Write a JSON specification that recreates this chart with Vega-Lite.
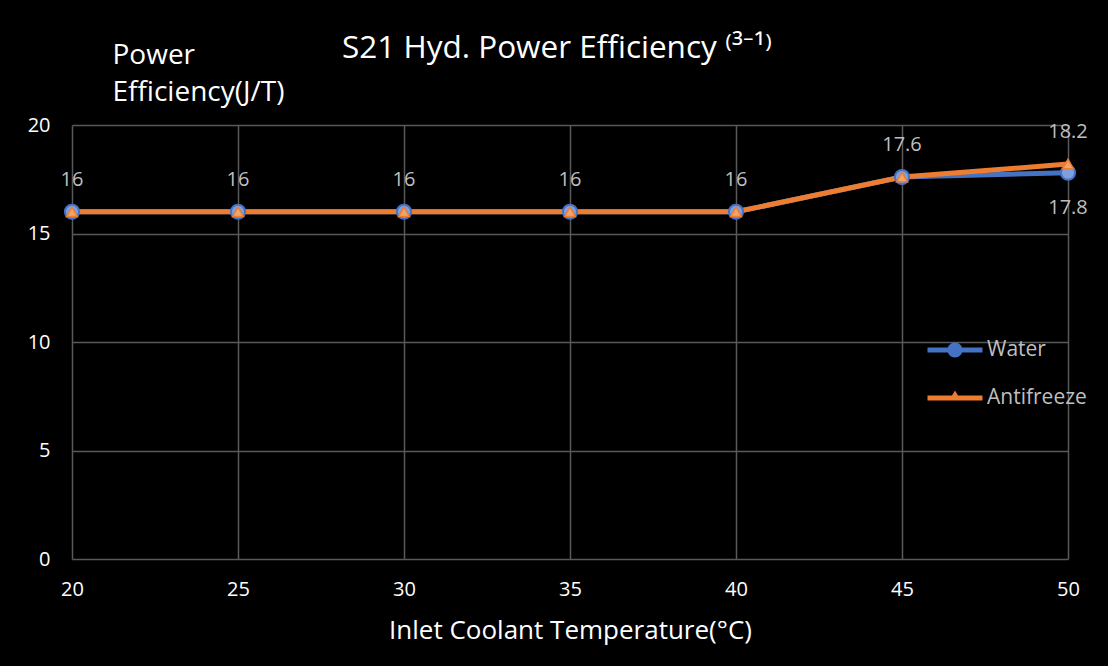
{
  "$schema": "https://vega.github.io/schema/vega-lite/v6.json",
  "width": 996,
  "height": 434,
  "autosize": {"type": "none"},
  "padding": {"left": 72, "top": 125, "right": 40, "bottom": 107},
  "background": "#000000",
  "config": {"view": {"stroke": null}, "font": "Open Sans"},
  "title": {
    "text": "S21 Hyd. Power Efficiency ⁽³⁻¹⁾",
    "fontSize": 31.5,
    "fontWeight": "normal",
    "color": "#ffffff",
    "anchor": "middle",
    "frame": "group",
    "dx": -13,
    "dy": 27
  },
  "data": {
    "values": [
      {"series": "Water", "temp": 20, "value": 16},
      {"series": "Water", "temp": 25, "value": 16},
      {"series": "Water", "temp": 30, "value": 16},
      {"series": "Water", "temp": 35, "value": 16},
      {"series": "Water", "temp": 40, "value": 16},
      {"series": "Water", "temp": 45, "value": 17.6},
      {"series": "Water", "temp": 50, "value": 17.8},
      {"series": "Antifreeze", "temp": 20, "value": 16},
      {"series": "Antifreeze", "temp": 25, "value": 16},
      {"series": "Antifreeze", "temp": 30, "value": 16},
      {"series": "Antifreeze", "temp": 35, "value": 16},
      {"series": "Antifreeze", "temp": 40, "value": 16},
      {"series": "Antifreeze", "temp": 45, "value": 17.6},
      {"series": "Antifreeze", "temp": 50, "value": 18.2}
    ]
  },
  "encoding": {
    "x": {
      "field": "temp",
      "type": "quantitative",
      "scale": {"domain": [20, 50], "nice": false, "zero": false},
      "axis": {
        "values": [20, 25, 30, 35, 40, 45, 50],
        "title": "Inlet Coolant Temperature(°C)",
        "grid": true,
        "gridColor": "#595959",
        "gridWidth": 1.5,
        "domain": false,
        "ticks": false,
        "labelFlush": false,
        "labelFontSize": 20,
        "labelColor": "#ffffff",
        "labelPadding": 20,
        "titleFontSize": 26,
        "titleColor": "#ffffff",
        "titleFontWeight": "normal",
        "titlePadding": 18
      }
    },
    "y": {
      "field": "value",
      "type": "quantitative",
      "scale": {"domain": [0, 20], "nice": false},
      "axis": {
        "values": [0, 5, 10, 15, 20],
        "title": ["Power", "Efficiency(J/T)"],
        "titleAngle": 0,
        "titleAlign": "left",
        "titleBaseline": "alphabetic",
        "titleX": 40,
        "titleY": -62,
        "titleLineHeight": 37,
        "titleFontSize": 28,
        "titleColor": "#ffffff",
        "titleFontWeight": "normal",
        "grid": true,
        "gridColor": "#595959",
        "gridWidth": 1.5,
        "domain": false,
        "ticks": false,
        "labelFontSize": 20,
        "labelColor": "#ffffff",
        "labelPadding": 22
      }
    }
  },
  "layer": [
    {
      "mark": {"type": "line", "strokeWidth": 5},
      "encoding": {
        "color": {
          "field": "series",
          "type": "nominal",
          "scale": {"domain": ["Water", "Antifreeze"], "range": ["#4472c4", "#ed7d31"]},
          "legend": {
            "orient": "none",
            "legendX": 868,
            "legendY": 210,
            "title": null,
            "padding": 0,
            "symbolSize": 900,
            "symbolStrokeWidth": 0,
            "labelOffset": 17,
            "rowPadding": 23,
            "labelFontSize": 21,
            "labelColor": "#bfbfbf",
            "labelFont": "Open Sans",
            "encode": {
              "symbols": {
                "update": {
                  "shape": {"signal": "datum.value === 'Water' ? 'M-1.833,-0.167 L1.833,-0.167 L1.833,0.167 L-1.833,0.167 Z M-0.5,0 A0.5,0.5 0 0,1 0.5,0 A0.5,0.5 0 0,1 -0.5,0 Z' : 'M-1.833,-0.167 L1.833,-0.167 L1.833,0.167 L-1.833,0.167 Z M0,-0.5 L0.4,0.167 L-0.4,0.167 Z'"},
                  "fill": {"scale": "color", "field": "value"},
                  "strokeWidth": {"value": 0}
                }
              }
            }
          }
        }
      }
    },
    {
      "transform": [{"filter": "datum.series === 'Water'"}],
      "mark": {"type": "point", "shape": "circle", "filled": true, "size": 200, "fill": "#7f9fdc", "stroke": "#4472c4", "strokeWidth": 2, "opacity": 1}
    },
    {
      "transform": [{"filter": "datum.series === 'Antifreeze'"}],
      "mark": {"type": "point", "shape": "triangle-up", "filled": true, "size": 120, "fill": "#f4a46a", "stroke": "#ed7d31", "strokeWidth": 1.5, "opacity": 1}
    },
    {
      "transform": [{"filter": "datum.series === 'Antifreeze'"}],
      "mark": {"type": "text", "dy": -32, "fontSize": 20, "color": "#bfbfbf", "font": "Open Sans"},
      "encoding": {"text": {"field": "value", "type": "quantitative"}}
    },
    {
      "transform": [{"filter": "datum.series === 'Water' && datum.temp === 50"}],
      "mark": {"type": "text", "dy": 35, "fontSize": 20, "color": "#bfbfbf", "font": "Open Sans"},
      "encoding": {"text": {"field": "value", "type": "quantitative"}}
    }
  ]
}
